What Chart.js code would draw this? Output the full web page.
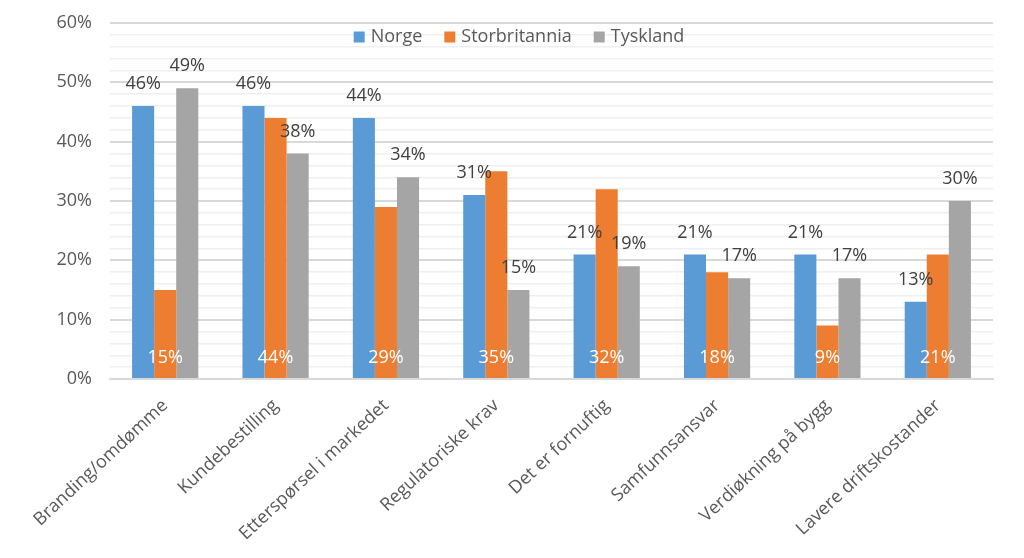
<!DOCTYPE html>
<html><head><meta charset="utf-8">
<script src="https://cdn.jsdelivr.net/npm/chart.js@4.4.1/dist/chart.umd.min.js"></script>
<style>html,body{margin:0;padding:0;background:#fff}#wrap{width:1024px;height:558px}</style>
</head><body><div id="wrap"><canvas id="c" width="1024" height="558"></canvas></div>
<script>
const categories = ["Branding/omdømme","Kundebestilling","Etterspørsel i markedet","Regulatoriske krav","Det er fornuftig","Samfunnsansvar","Verdiøkning på bygg","Lavere driftskostander"];
const seriesNames = ["Norge","Storbritannia","Tyskland"];
const norge = [46,46,44,31,21,21,21,13];
const storbritannia = [15,44,29,35,32,18,9,21];
const tyskland = [49,38,34,15,19,17,17,30];
const colors = ["#5B9BD5","#ED7D31","#A5A5A5"];
const FONT = "'Open Sans', sans-serif";

const labelPlugin = {
  id: 'valLabels',
  afterDatasetsDraw(chart) {
    const ctx = chart.ctx;
    ctx.save();
    ctx.font = "18px " + FONT;
    ctx.textAlign = 'center';
    ctx.textBaseline = 'middle';
    const base = chart.scales.y.getPixelForValue(0);
    chart.data.datasets.forEach((ds, di) => {
      const meta = chart.getDatasetMeta(di);
      meta.data.forEach((bar, i) => {
        const v = ds.data[i];
        if (di === 1) {
          ctx.fillStyle = '#ffffff';
          ctx.fillText(v + '%', bar.x, base - 21);
        } else {
          ctx.fillStyle = '#404040';
          ctx.fillText(v + '%', bar.x, bar.y - 22);
        }
      });
    });
    ctx.restore();
  }
};

const legendPlugin = {
  id: 'innerLegend',
  afterDraw(chart) {
    const ctx = chart.ctx;
    ctx.save();
    ctx.font = "18px " + FONT;
    ctx.textBaseline = 'middle';
    ctx.textAlign = 'left';
    const box = 11, gap = 6, itemGap = 22;
    const ds = chart.data.datasets;
    let total = 0;
    ds.forEach((d, i) => { total += box + gap + ctx.measureText(d.label).width + (i < ds.length - 1 ? itemGap : 0); });
    let x = 519 - total / 2;
    const y = 37;
    ds.forEach((d) => {
      ctx.fillStyle = d.backgroundColor;
      ctx.fillRect(x, y - box / 2, box, box);
      x += box + gap;
      ctx.fillStyle = '#595959';
      ctx.fillText(d.label, x, y);
      x += ctx.measureText(d.label).width + itemGap;
    });
    ctx.restore();
  }
};

new Chart(document.getElementById('c'), {
  type: 'bar',
  data: {
    labels: categories,
    datasets: [
      { label: seriesNames[0], data: norge, backgroundColor: colors[0] },
      { label: seriesNames[1], data: storbritannia, backgroundColor: colors[1] },
      { label: seriesNames[2], data: tyskland, backgroundColor: colors[2] }
    ]
  },
  options: {
    responsive: false,
    animation: false,
    devicePixelRatio: 1,
    layout: { padding: { left: 10, right: 31, top: 23, bottom: 9 } },
    datasets: { bar: { categoryPercentage: 0.6, barPercentage: 1.0 } },
    plugins: { legend: { display: false }, tooltip: { enabled: false } },
    scales: {
      x: {
        grid: { display: false },
        border: { color: '#d9d9d9', width: 2 },
        ticks: { color: '#595959', font: { family: FONT, size: 18 }, minRotation: 43, maxRotation: 43, padding: 8 },
        afterFit: s => { s.height = 170; s.paddingLeft = 0; s.paddingRight = 0; }
      },
      y: {
        min: 0, max: 60,
        border: { display: false },
        grid: {
          color: c => (c.tick && c.tick.value % 10 === 0) ? '#d9d9d9' : '#efefef',
          lineWidth: c => (c.tick && c.tick.value % 10 === 0) ? 2 : 1.5,
          drawTicks: false
        },
        ticks: {
          stepSize: 2,
          autoSkip: false,
          padding: 18,
          color: '#595959',
          font: { family: FONT, size: 18 },
          callback: v => (v % 10 === 0) ? v + '%' : ''
        },
        afterFit: s => { s.width = 100; s.paddingTop = 0; s.paddingBottom = 0; }
      }
    }
  },
  plugins: [labelPlugin, legendPlugin]
});
</script></body></html>
